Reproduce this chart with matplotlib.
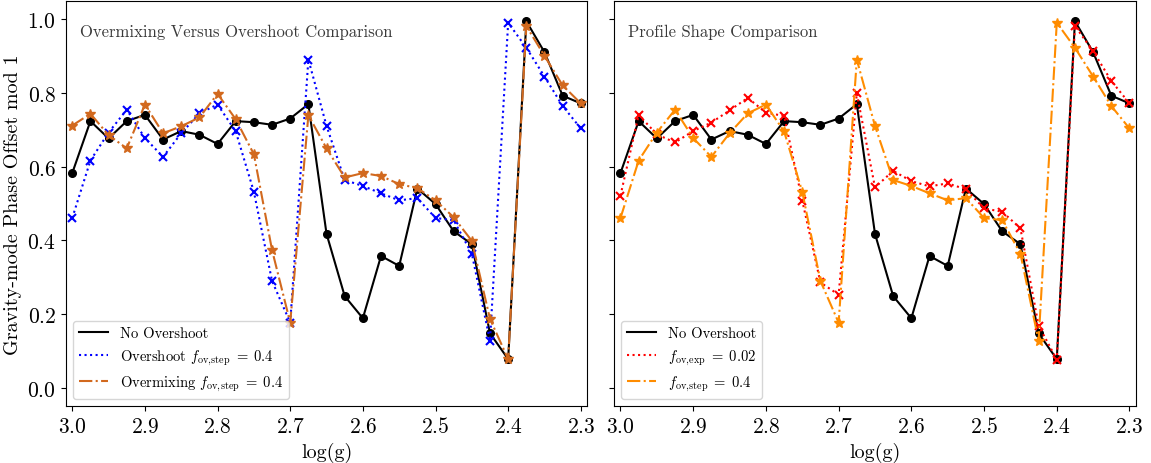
import numpy as np
import matplotlib
matplotlib.use("Agg")
import matplotlib.pyplot as plt

plt.rcParams['font.family'] = ['cmr10', 'DejaVu Serif']
plt.rcParams['mathtext.fontset'] = 'cm'
plt.rcParams['axes.formatter.use_mathtext'] = True

# log(g) grid, 3.0 -> 2.3 in steps of 0.025
logg = [3.0, 2.975, 2.95, 2.925, 2.9, 2.875, 2.85, 2.825, 2.8, 2.775,
        2.75, 2.725, 2.7, 2.675, 2.65, 2.625, 2.6, 2.575, 2.55, 2.525,
        2.5, 2.475, 2.45, 2.425, 2.4, 2.375, 2.35, 2.325, 2.3]

no_overshoot = [0.583, 0.724, 0.677, 0.724, 0.741, 0.674, 0.697, 0.687, 0.662, 0.724,
                0.721, 0.714, 0.731, 0.770, 0.418, 0.249, 0.189, 0.358, 0.331, 0.541,
                0.499, 0.425, 0.390, 0.148, 0.078, 0.995, 0.911, 0.793, 0.772]

overshoot_step = [0.461, 0.617, 0.693, 0.755, 0.678, 0.627, 0.691, 0.745, 0.769, 0.696,
                  0.532, 0.290, 0.177, 0.891, 0.711, 0.564, 0.548, 0.528, 0.509, 0.515,
                  0.461, 0.455, 0.364, 0.128, 0.991, 0.923, 0.845, 0.765, 0.704]

overmixing_step = [0.712, 0.744, 0.686, 0.650, 0.769, 0.691, 0.710, 0.734, 0.798, 0.729,
                   0.634, 0.374, 0.177, 0.740, 0.650, 0.571, 0.583, 0.575, 0.553, 0.542,
                   0.509, 0.463, 0.399, 0.187, 0.078, 0.982, 0.901, 0.821, 0.772]

overshoot_exp = [0.522, 0.741, 0.688, 0.666, 0.697, 0.720, 0.753, 0.787, 0.747, 0.738,
                 0.508, 0.286, 0.253, 0.799, 0.544, 0.589, 0.561, 0.547, 0.555, 0.539,
                 0.487, 0.478, 0.433, 0.169, 0.077, 0.982, 0.914, 0.833, 0.772]

fig = plt.figure(figsize=(11.51, 4.64), dpi=100)
ax1 = fig.add_axes([0.0571, 0.1222, 0.4532, 0.8735])
ax2 = fig.add_axes([0.5334, 0.1222, 0.4536, 0.8735], sharey=ax1)

# --- left: overmixing vs overshoot ---
ax1.plot(logg, no_overshoot, color='black', marker='o', ms=5.5, lw=1.5, label='No Overshoot')
ax1.plot(logg, overshoot_step, color='blue', marker='x', ms=6, mew=1.5, lw=1.5, ls=':',
         label=r'Overshoot $f_{\rm ov,\!step}\;=\;0.4$')
ax1.plot(logg, overmixing_step, color='#D2691E', marker='*', ms=7, lw=1.5, ls='-.',
         label=r'Overmixing $f_{\rm ov,\!step}\;=\;0.4$')
ax1.text(0.027, 0.925, 'Overmixing Versus Overshoot Comparison', transform=ax1.transAxes,
         fontsize=12, color='#3a3a3a', va='center', ha='left')
ax1.set_ylabel('Gravity-mode Phase Offset mod 1', fontsize=14.5)

# --- right: profile shape ---
ax2.plot(logg, no_overshoot, color='black', marker='o', ms=5.5, lw=1.5, label='No Overshoot')
ax2.plot(logg, overshoot_exp, color='red', marker='x', ms=6, mew=1.5, lw=1.5, ls=':',
         label=r'$f_{\rm ov,\!exp}\;=\;0.02$')
ax2.plot(logg, overshoot_step, color='darkorange', marker='*', ms=7, lw=1.5, ls='-.',
         label=r'$f_{\rm ov,\!step}\;=\;0.4$')
ax2.text(0.027, 0.925, 'Profile Shape Comparison', transform=ax2.transAxes,
         fontsize=12, color='#3a3a3a', va='center', ha='left')
plt.setp(ax2.get_yticklabels(), visible=False)

for ax in (ax1, ax2):
    ax.set_xlim(3.009, 2.291)
    ax.set_ylim(-0.05, 1.05)
    ax.set_xticks([3.0, 2.9, 2.8, 2.7, 2.6, 2.5, 2.4, 2.3])
    ax.set_yticks([0.0, 0.2, 0.4, 0.6, 0.8, 1.0])
    ax.tick_params(labelsize=15.5)
    ax.set_xlabel('log(g)', fontsize=14.5)
    leg = ax.legend(loc='lower left', fontsize=10.5)
    for line in leg.get_lines():
        line.set_marker('None')

fig.savefig('out.png', dpi=100)
